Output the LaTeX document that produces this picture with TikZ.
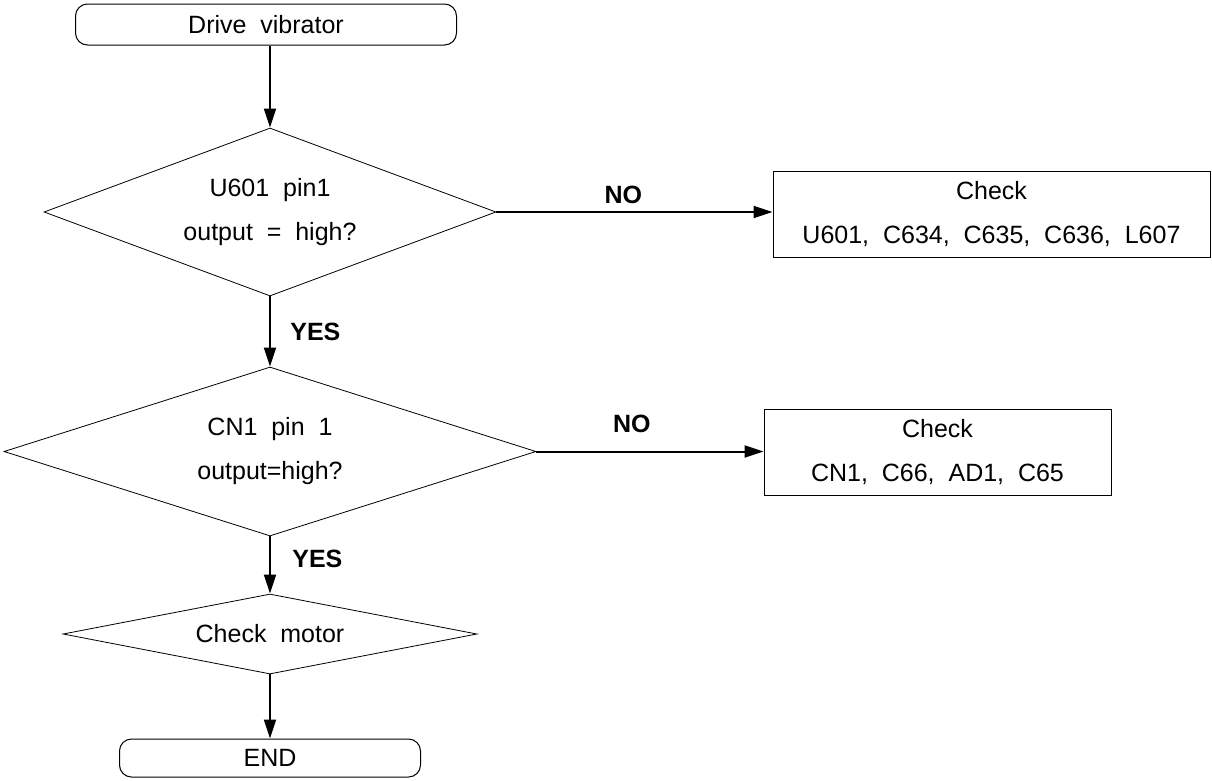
\documentclass[tikz,border=0pt]{standalone}
\usepackage{fontspec}
\setmainfont{Liberation Sans}
\usetikzlibrary{shapes.geometric,arrows.meta}
\begin{document}
\begin{tikzpicture}[x=1pt,y=-1pt,
  txt/.style={font=\fontsize{25}{44}\selectfont, align=center},
  term/.style={txt, draw, line width=1pt, rounded corners=12pt, inner sep=0pt},
  dia/.style={txt, draw, diamond, line width=0.8pt, inner sep=0pt},
  chk/.style={txt, draw, line width=1pt, inner sep=0pt},
  lbl/.style={font=\fontsize{25}{30}\selectfont\bfseries},
  arr/.style={line width=2pt, -{Triangle[length=19pt,width=12pt]}}
]
\useasboundingbox (0,0) rectangle (1212,780);

\node[term, minimum width=381pt, minimum height=41pt] (start) at (266,24.5) {Drive~~vibrator};
\node[dia, shape aspect=2.7, minimum width=452pt, minimum height=168pt] (d1) at (270,212) {U601~~pin1\\output~~=~~high?};
\node[chk, minimum width=437pt, minimum height=86pt] (c1) at (991.5,214) {Check\\U601,~~C634,~~C635,~~C636,~~L607};
\node[dia, shape aspect=3.15, minimum width=532pt, minimum height=169pt] (d2) at (270,451.5) {CN1~~pin~~1\\output=high?};
\node[chk, minimum width=347pt, minimum height=86pt] (c2) at (937.5,452) {Check\\CN1,~~C66,~~AD1,~~C65};
\node[dia, shape aspect=5.2, minimum width=414pt, minimum height=80pt] (d3) at (270,634) {Check~~motor};
\node[term, minimum width=301pt, minimum height=38pt] (end) at (270,758) {END};

\draw[arr] (start.south -| d1.north) -- (d1.north);
\draw[arr] (d1.east) -- node[lbl, above=4pt, pos=0.46] (no1) {NO} (c1.west |- d1.east);
\draw[arr] (d1.south) -- node[lbl, right=16pt] (yes1) {YES} (d2.north);
\draw[arr] (d2.east) -- node[lbl, above=14pt, pos=0.42] (no2) {NO} (c2.west |- d2.east);
\draw[arr] (d2.south) -- node[lbl, right=18pt, pos=0.4] (yes2) {YES} (d3.north);
\draw[arr] (d3.south) -- (end.north);
\end{tikzpicture}
\end{document}
